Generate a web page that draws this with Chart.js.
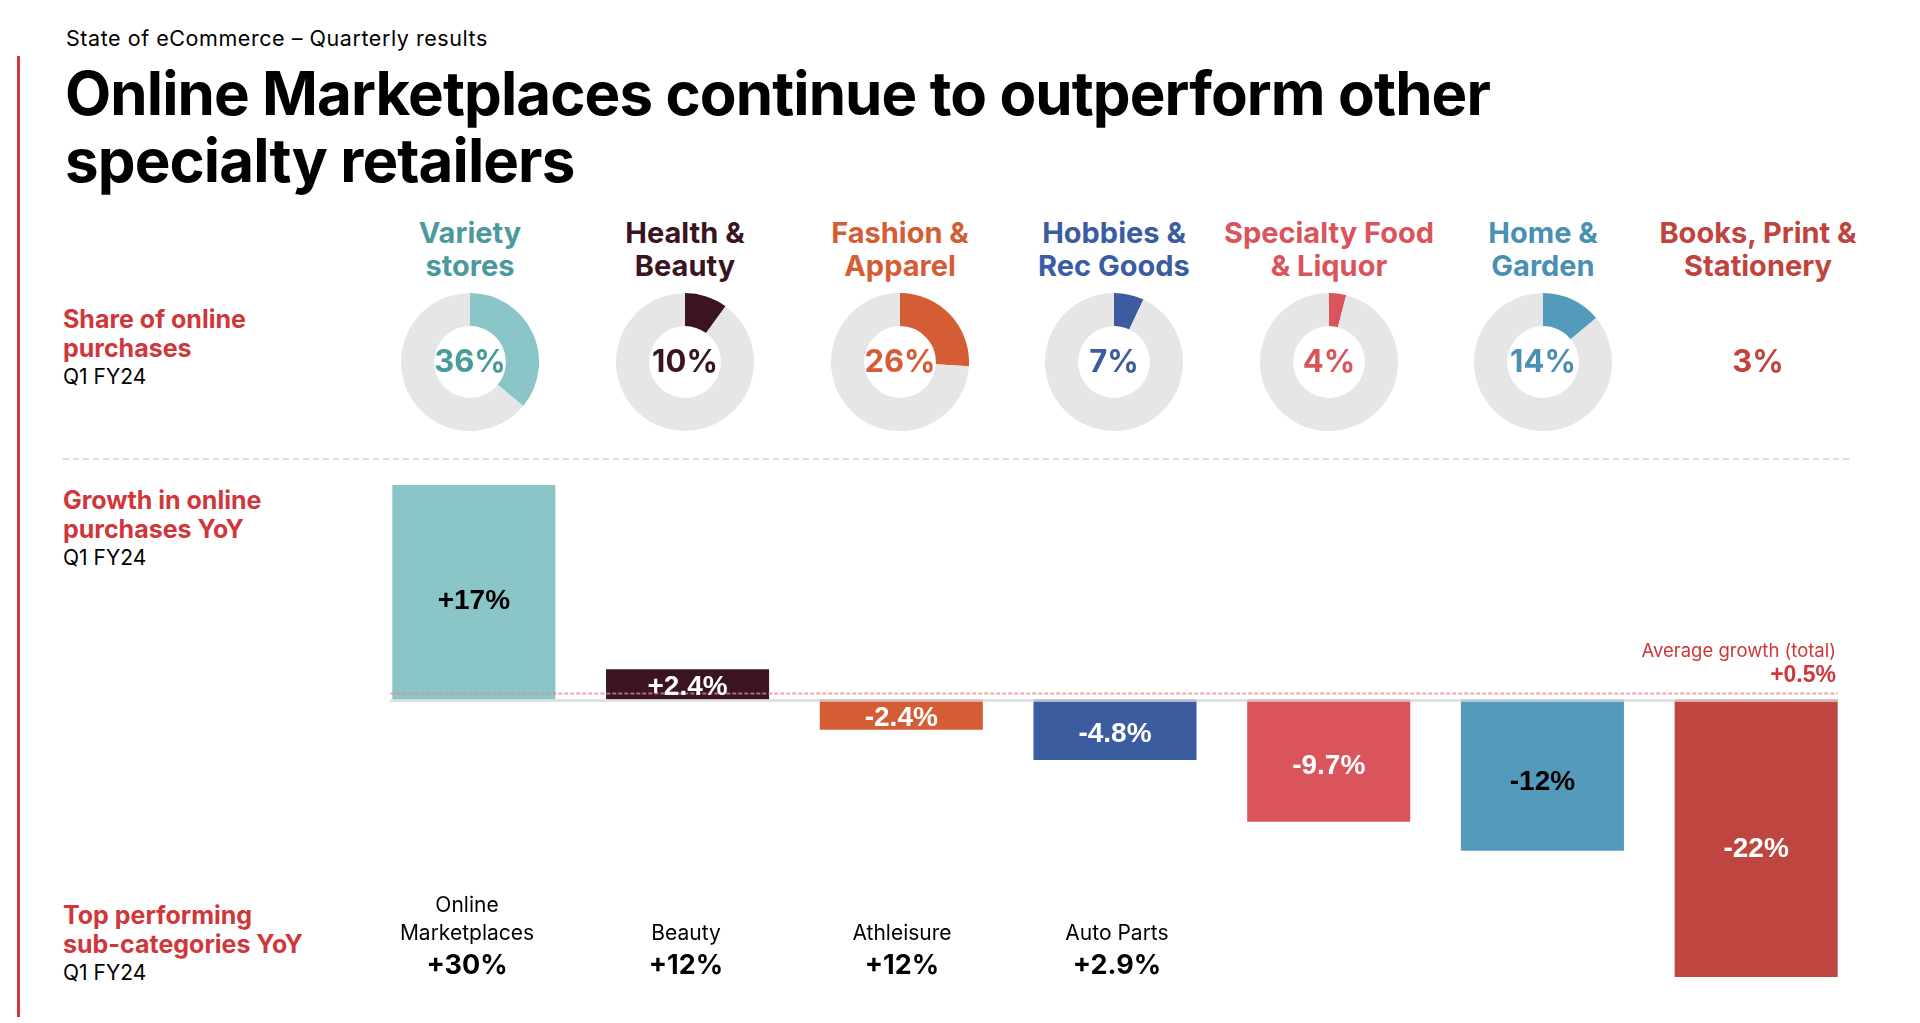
<!DOCTYPE html>
<html><head><meta charset="utf-8">
<script src="https://cdn.jsdelivr.net/npm/chart.js@4.4.1/dist/chart.umd.min.js"></script>
<style>
html,body{margin:0;padding:0;background:#fff;}
body{width:1920px;height:1023px;position:relative;overflow:hidden;font-family:Inter,"Noto Sans",sans-serif;color:#000;}
.abs{position:absolute;}
#redline{left:17px;top:56px;width:3px;height:961px;background:#d8383c;}
#sub{left:66px;top:25px;font-size:21.5px;line-height:26px;letter-spacing:0.55px;white-space:nowrap;}
#title{left:65px;top:60px;font-size:60px;font-weight:700;line-height:67px;white-space:nowrap;letter-spacing:-0.9px;}
.rowlab{left:63px;white-space:nowrap;}
.rowlab .r{color:#d0373a;font-weight:700;font-size:25px;line-height:29px;}
.rowlab .q{font-size:21px;line-height:27px;}
#sep{left:63px;top:458px;width:1786px;height:0;border-top:2px dashed #dcdcdc;}
.head{width:280px;margin-left:-140px;text-align:center;top:216px;font-weight:700;font-size:29px;line-height:33px;white-space:nowrap;}
.donut{width:138px;height:138px;margin-left:-69px;top:293px;}
.pct{width:160px;margin-left:-80px;text-align:center;top:341px;font-size:31px;line-height:40px;font-weight:700;}
.subn{width:220px;margin-left:-110px;text-align:center;bottom:76px;font-size:21px;line-height:28px;}
.subv{width:220px;margin-left:-110px;text-align:center;top:948px;font-size:27px;line-height:34px;font-weight:700;}
#barwrap{left:367px;top:485px;width:1496px;height:492px;}
#avgT{right:84px;top:639px;font-size:18.5px;line-height:22px;color:#d0373a;white-space:nowrap;text-align:right;}
#avgV{right:84px;top:660px;font-size:23px;line-height:28px;color:#d0373a;font-weight:700;font-family:"Liberation Sans",Arial,sans-serif;text-align:right;}
</style>
</head><body>
<div id="redline" class="abs"></div>
<div id="sub" class="abs">State of eCommerce – Quarterly results</div>
<div id="title" class="abs">Online Marketplaces continue to outperform other<br>specialty retailers</div>

<div class="abs rowlab" style="top:305px"><div class="r">Share of online<br>purchases</div><div class="q">Q1 FY24</div></div>
<div class="abs rowlab" style="top:486px"><div class="r">Growth in online<br>purchases YoY</div><div class="q">Q1 FY24</div></div>
<div class="abs rowlab" style="top:901px"><div class="r">Top performing<br>sub-categories YoY</div><div class="q">Q1 FY24</div></div>
<div id="sep" class="abs"></div>

<div id="barwrap" class="abs"><canvas id="bars"></canvas></div>
<div id="avgT" class="abs">Average growth (total)</div>
<div id="avgV" class="abs"></div>
<div id="cols"></div>

<script>
// ---- data ----
const categories = [["Variety","stores"],["Health &","Beauty"],["Fashion &","Apparel"],["Hobbies &","Rec Goods"],["Specialty Food","& Liquor"],["Home &","Garden"],["Books, Print &","Stationery"]];
const shareOfOnline = [36, 10, 26, 7, 4, 14, 3];
const showDonut = [true, true, true, true, true, true, false];
const growthYoY = [17, 2.4, -2.4, -4.8, -9.7, -12, -22];
const averageGrowth = 0.5;
const topSubcategories = [["Online","Marketplaces"],["Beauty"],["Athleisure"],["Auto Parts"],null,null,null];
const topSubcategoryGrowth = [30, 12, 12, 2.9, null, null, null];

// ---- styles ----
const seriesColors = ["#8ac5c8","#3a1420","#d45d35","#3c5ca0","#d9555b","#549abb","#be4540"];
const headColors   = ["#4a9a9c","#3a1420","#d45d35","#3c5ca0","#d9555b","#4a90b2","#c0443d"];
const barLabelColors = ["#000","#fff","#fff","#fff","#fff","#000","#fff"];
const colCenters = [470, 685, 900, 1114, 1329, 1543, 1758];
const subCenters = [467, 686, 902, 1117];
const donutTrack = "#e6e6e6";

const fmt = v => (v > 0 ? "+" : "") + v + "%";

const cols = document.getElementById("cols");
categories.forEach((c, i) => {
  const x = colCenters[i];
  const h = document.createElement("div");
  h.className = "abs head"; h.style.left = x + "px"; h.style.color = headColors[i];
  h.innerHTML = c.join("<br>");
  cols.appendChild(h);
  if (showDonut[i]) {
    const d = document.createElement("div");
    d.className = "abs donut"; d.style.left = x + "px";
    const cv = document.createElement("canvas");
    d.appendChild(cv); cols.appendChild(d);
    new Chart(cv, {
      type: "doughnut",
      data: { labels: ["share","rest"], datasets: [{ data: [shareOfOnline[i], 100 - shareOfOnline[i]], backgroundColor: [seriesColors[i], donutTrack], borderWidth: 0 }] },
      options: { responsive: true, maintainAspectRatio: false, animation: false, events: [], cutout: "52%", layout: { padding: 0 },
        plugins: { legend: { display: false }, tooltip: { enabled: false } } }
    });
  }
  const p = document.createElement("div");
  p.className = "abs pct"; p.style.left = x + "px"; p.style.color = headColors[i];
  p.textContent = shareOfOnline[i] + "%";
  cols.appendChild(p);
  if (topSubcategories[i]) {
    const sx = subCenters[i];
    const n = document.createElement("div");
    n.className = "abs subn"; n.style.left = sx + "px";
    n.innerHTML = topSubcategories[i].join("<br>");
    cols.appendChild(n);
    const v = document.createElement("div");
    v.className = "abs subv"; v.style.left = sx + "px";
    v.textContent = fmt(topSubcategoryGrowth[i]);
    cols.appendChild(v);
  }
});
document.getElementById("avgV").textContent = fmt(averageGrowth);

const barDecor = {
  id: "barDecor",
  afterDatasetsDraw(chart) {
    const ctx = chart.ctx;
    const meta = chart.getDatasetMeta(0);
    const y = chart.scales.y;
    const first = meta.data[0], last = meta.data[meta.data.length - 1];
    const x0 = first.x - first.width / 2 - 2, x1 = last.x + last.width / 2;
    ctx.save();
    // zero line
    const y0 = y.getPixelForValue(0);
    ctx.strokeStyle = "rgba(215,215,215,0.75)"; ctx.lineWidth = 3;
    ctx.beginPath(); ctx.moveTo(x0, y0 + 1); ctx.lineTo(x1, y0 + 1); ctx.stroke();
    // average line
    const ya = Math.round(y.getPixelForValue(averageGrowth)) + 0.5;
    ctx.strokeStyle = "rgba(225,140,140,0.75)"; ctx.lineWidth = 2; ctx.setLineDash([4, 2]);
    ctx.beginPath(); ctx.moveTo(x0, ya); ctx.lineTo(x1, ya); ctx.stroke();
    ctx.setLineDash([]);
    // labels
    const fs = 28;
    ctx.font = "bold " + fs + "px 'Liberation Sans', Arial, sans-serif";
    ctx.textAlign = "center"; ctx.textBaseline = "alphabetic";
    meta.data.forEach((bar, i) => {
      const h = Math.abs(bar.base - bar.y);
      const cy = (bar.y + bar.base) / 2 + 0.03 * h;
      ctx.fillStyle = barLabelColors[i];
      ctx.fillText(fmt(growthYoY[i]), bar.x, cy + 0.358 * fs);
    });
    ctx.restore();
  }
};

new Chart(document.getElementById("bars"), {
  type: "bar",
  data: { labels: categories.map(c => c.join(" ")), datasets: [{ data: growthYoY, backgroundColor: seriesColors, borderWidth: 0, barPercentage: 0.763, categoryPercentage: 1 }] },
  options: {
    responsive: true, maintainAspectRatio: false, animation: false, events: [],
    layout: { padding: 0 },
    plugins: { legend: { display: false }, tooltip: { enabled: false } },
    scales: { x: { display: false }, y: { display: false, min: -22, max: 17 } }
  },
  plugins: [barDecor]
});
</script>
</body></html>
